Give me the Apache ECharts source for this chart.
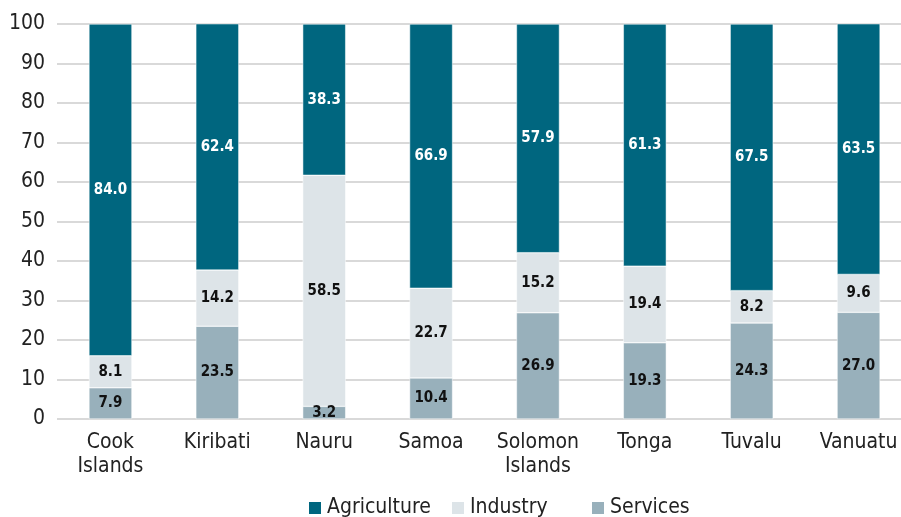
<!DOCTYPE html>
<html><head><meta charset="utf-8">
<script src="https://cdn.jsdelivr.net/npm/echarts@6/dist/echarts.min.js"></script>
<style>html,body{margin:0;padding:0;background:#fff;overflow:hidden}#c{width:912px;height:517px}</style>
</head><body><div id="c"></div>
<script>
const categories = ['Cook\nIslands','Kiribati','Nauru','Samoa','Solomon\nIslands','Tonga','Tuvalu','Vanuatu'];
const services = [7.9, 23.5, 3.2, 10.4, 26.9, 19.3, 24.3, 27.0];
const industry = [8.1, 14.2, 58.5, 22.7, 15.2, 19.4, 8.2, 9.6];
const agriculture = [84.0, 62.4, 38.3, 66.9, 57.9, 61.3, 67.5, 63.5];
const yTicks = [0,10,20,30,40,50,60,70,80,90,100];

const FONT = '"DejaVu Sans Condensed", sans-serif';
const chart = echarts.init(document.getElementById('c'));
function lbl(color){
  return {show:true, position:'inside', color:color, fontFamily:FONT, fontWeight:'bold', fontSize:15,
    formatter: p => p.value.toFixed(1)};
}
function leg(name, left){
  return {data:[name], left:left, top:496, padding:0, icon:'rect', itemWidth:14, itemHeight:14, itemGap:0,
    textStyle:{fontFamily:FONT, fontSize:21, color:'#222', lineHeight:24}};
}
chart.setOption({
  animation:false,
  grid:{left:57, top:24, right:0, height:395},
  legend:[leg('Agriculture',307), leg('Industry',450), leg('Services',590)],
  xAxis:{type:'category', data:categories,
    axisLine:{show:false}, axisTick:{show:false},
    axisLabel:{interval:0, fontFamily:FONT, fontSize:21, color:'#222', margin:12, lineHeight:24}},
  yAxis:{type:'value', min:0, max:100, interval:10,
    axisLabel:{fontFamily:FONT, fontSize:21, color:'#222', margin:12, formatter: v => yTicks.includes(v) ? String(v) : ''},
    splitLine:{lineStyle:{color:'#cccccc', width:1.5}},
    axisLine:{show:false}, axisTick:{show:false}},
  series:[
    {name:'Services', type:'bar', stack:'s', data:services, barWidth:43,
      itemStyle:{color:'#98b0bb', borderColor:'#ffffff', borderWidth:0.5}, label:lbl('#111')},
    {name:'Industry', type:'bar', stack:'s', data:industry, barWidth:43,
      itemStyle:{color:'#dde4e8', borderColor:'#ffffff', borderWidth:0.5}, label:lbl('#111')},
    {name:'Agriculture', type:'bar', stack:'s', data:agriculture, barWidth:43,
      itemStyle:{color:'#00667f', borderColor:'#ffffff', borderWidth:0.5}, label:lbl('#ffffff')}
  ]
});
</script></body></html>
